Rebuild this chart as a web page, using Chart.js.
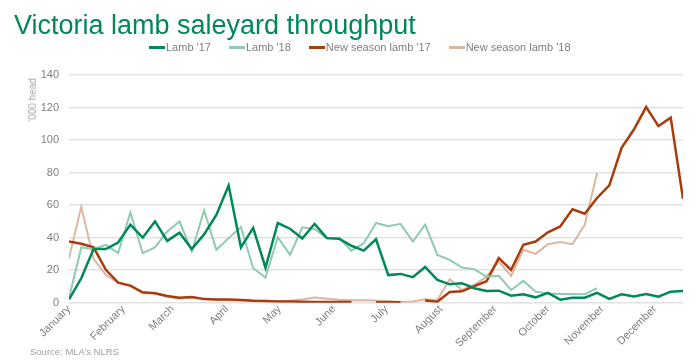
<!DOCTYPE html>
<html>
<head>
<meta charset="utf-8">
<script src="https://cdn.jsdelivr.net/npm/chart.js@4.4.0/dist/chart.umd.min.js"></script>
<style>
  body { margin: 0; background: #fff; }
  #wrap { position: relative; width: 700px; height: 362px; font-family: "Liberation Sans", Arial, sans-serif; }
  #title { position: absolute; left: 14px; top: 12px; font-size: 27px; line-height: 27px; color: #00875a; white-space: nowrap; }
  #legend { position: absolute; left: 149px; top: 41px; display: flex; font-size: 11px; line-height: 12px; color: #7f7f7f; white-space: nowrap; }
  #legend .item { display: flex; align-items: center; margin-right: 18px; }
  #legend .mark { display: inline-block; width: 16px; height: 3px; margin-right: 1px; }
  #yTitle { position: absolute; left: 33px; top: 78px; font-size: 10px; line-height: 12px; color: #a6a6a6; white-space: nowrap;
            transform-origin: 0 0; transform: rotate(-90deg) translate(-100%, -50%); }
  #source { position: absolute; left: 30px; top: 346px; font-size: 9.5px; color: #a0a0a0; white-space: nowrap; }
  canvas { position: absolute; left: 0; top: 0; }
</style>
</head>
<body>
<div id="wrap">
  <canvas id="chart" width="700" height="362"></canvas>
  <div id="title">Victoria lamb saleyard throughput</div>
  <div id="legend"></div>
  <div id="yTitle">'000 head</div>
  <div id="source">Source: MLA’s NLRS</div>
</div>
<script>
// days from 1 January for each weekly reading
const weekDays = [0, 7, 14, 21, 28, 35, 42, 49, 56, 63, 70, 77, 84, 91, 98, 105, 112,
    119, 126, 133, 140, 147, 154, 161, 168, 175, 182, 189, 196, 203, 210, 217, 224,
    231, 238, 245, 252, 259, 266, 273, 280, 287, 294, 301, 308, 315, 322, 329, 336,
    343, 350];

// x-axis ticks: first day of each month
const monthStarts = [0, 31, 59, 90, 120, 151, 181, 212, 243, 273, 304, 334];
const monthLabels = ["January", "February", "March", "April", "May", "June", "July",
    "August", "September", "October", "November", "December"];

// '000 head
const lamb17 = [2, 15, 33, 33, 37, 48, 40, 50, 38, 43,
    33, 42, 54, 72, 34, 46, 21.5, 49, 45.5, 39.5,
    48.5, 39.7, 39.3, 35, 32, 39, 17, 17.7, 15.7, 22,
    14, 11.3, 12, 8.9, 7.2, 7.4, 4.3, 5.2, 3.3, 6,
    1.9, 3.1, 3.1, 6, 2.3, 5.2, 3.9, 5.4, 3.7, 6.8, 7.2];
const lamb18 = [2.7, 34, 33, 35.6, 30.5, 55.5, 30.5, 34, 43.8, 50,
    31.5, 56.8, 32.5, 39.7, 46.5, 21.2, 15.4, 40.3, 29.4, 46.4,
    45.3, 39.7, 39.7, 32, 36.6, 49, 47, 48.5, 37.6, 48,
    29.4, 26.3, 21.6, 20.6, 16, 16.5, 7.8, 13.4, 6.8, 5.6,
    5.4, 5.3, 5.2, 8.9, null, null, null, null, null, null, null];
const newSeason17 = [37.6, 36.2, 34, 20.2, 12.3, 10.5, 6.4, 5.8, 4.1, 3,
    3.5, 2.2, 2, 2, 1.7, 1.2, 1, 0.8, 0.7, 0.6,
    0.5, 0.5, 0.4, 0.4, null, 0.3, 0.3, 0.3, null, 1.4,
    0.6, 6.6, 7, 10.2, 13.2, 27.4, 20.2, 35.6, 37.6, 43.3,
    46.9, 57.4, 54.7, 64.4, 72.2, 95.2, 106.5, 120.3, 108.6, 113.8, 63.8];
const newSeason18 = [27.4, 59, 27, 17, 12.3, 10.3, 5.8, 5.8, 3.7, 2.4,
    3.4, 2.4, 2, 1.5, 1.5, 1.3, 1, 1, 1.2, 2,
    3.2, 2.5, 1.8, 1.5, 1.5, 1.3, 1, 0.5, 0.7, 2.1,
    1.7, 14.4, 7.8, 10.9, 16, 25.3, 16.5, 32.5, 30, 36,
    37.3, 36, 47.9, 79.8, null, null, null, null, null, null, null];

const grey = "#7f7f7f";
const fontFamily = "'Liberation Sans', Arial, sans-serif";

function toPoints(values) {
    return values.map((v, i) => ({ x: weekDays[i], y: v }));
}

function series(label, values, color, width) {
    return {
        label,
        data: toPoints(values),
        borderColor: color,
        backgroundColor: color,
        borderWidth: width,
        pointRadius: 0,
        tension: 0,
        spanGaps: false
    };
}

const ctx = document.getElementById("chart").getContext("2d");
const chart = new Chart(ctx, {
    type: "line",
    data: {
        datasets: [
            series("Lamb '17", lamb17, "#00875a", 2.5),
            series("Lamb '18", lamb18, "#8fcbb0", 2),
            series("New season lamb '17", newSeason17, "#a83c0c", 2.5),
            series("New season lamb '18", newSeason18, "#ddb6a3", 2)
        ]
    },
    options: {
        responsive: false,
        animation: false,
        events: [],
        layout: { padding: { top: 75, left: 39, right: 17, bottom: 0 } },
        plugins: {
            legend: { display: false },
            tooltip: { enabled: false }
        },
        scales: {
            x: {
                type: "linear",
                min: 0,
                max: 350,
                grid: { display: false, drawTicks: false },
                border: { display: false },
                afterBuildTicks: (axis) => {
                    axis.ticks = monthStarts.map(v => ({ value: v }));
                },
                afterFit: (axis) => { axis.height = 59.3; },
                ticks: {
                    autoSkip: false,
                    minRotation: 45,
                    maxRotation: 45,
                    padding: 0,
                    color: grey,
                    font: { size: 11, family: fontFamily },
                    callback: (value, index) => monthLabels[index]
                }
            },
            y: {
                min: 0,
                max: 140,
                border: { display: false },
                grid: { color: "#e2e2e2", lineWidth: 1.5, drawTicks: false },
                afterFit: (axis) => { axis.width = 30; },
                ticks: {
                    stepSize: 20,
                    padding: 10,
                    color: grey,
                    font: { size: 11, family: fontFamily }
                }
            }
        }
    }
});

// legend in the same order as the datasets
const legendBox = document.getElementById("legend");
chart.data.datasets.forEach(ds => {
    const item = document.createElement("span");
    item.className = "item";
    const mark = document.createElement("span");
    mark.className = "mark";
    mark.style.background = ds.borderColor;
    item.appendChild(mark);
    item.appendChild(document.createTextNode(ds.label));
    legendBox.appendChild(item);
});
</script>
</body>
</html>
